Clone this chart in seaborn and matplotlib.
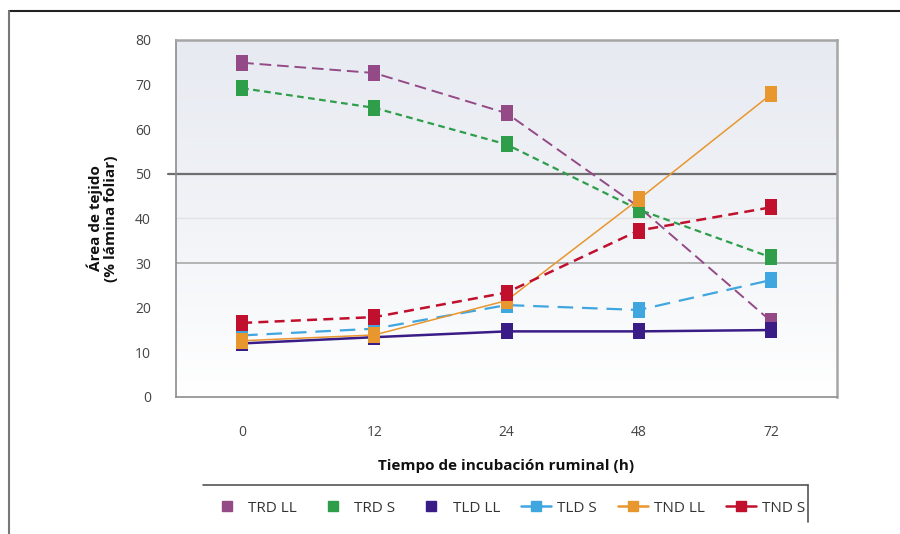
import numpy as np
import pandas as pd
import matplotlib
matplotlib.use("Agg")
import matplotlib.pyplot as plt
from matplotlib.lines import Line2D
import seaborn as sns

# Incubation times (h) and tissue area (% of leaf blade) per treatment
horas = ["0", "12", "24", "48", "72"]
trd_ll = [74.9, 72.6, 63.6, 42.6, 17.0]
trd_s = [69.2, 64.8, 56.6, 42.0, 31.3]
tld_ll = [12.0, 13.4, 14.7, 14.7, 15.0]
tld_s = [13.8, 15.3, 20.6, 19.5, 26.2]
tnd_ll = [12.6, 13.9, 21.6, 44.3, 67.8]
tnd_s = [16.6, 17.9, 23.4, 37.3, 42.5]

series = ["TRD LL", "TRD S", "TLD LL", "TLD S", "TND LL", "TND S"]
valores = [trd_ll, trd_s, tld_ll, tld_s, tnd_ll, tnd_s]

colores = {
    "TRD LL": "#944A86",
    "TRD S": "#2E9E4A",
    "TLD LL": "#3A1C86",
    "TLD S": "#3FA6E0",
    "TND LL": "#E8962E",
    "TND S": "#C0102E",
}
trazos = {
    "TRD LL": (6, 3),
    "TRD S": (3, 2),
    "TLD LL": "",
    "TLD S": (7, 4),
    "TND LL": "",
    "TND S": (4, 2.5),
}
grosor = {"TRD LL": 1.4, "TRD S": 1.6, "TLD LL": 1.8,
          "TLD S": 1.6, "TND LL": 1.1, "TND S": 1.8}

df = pd.DataFrame({
    "serie": np.repeat(series, len(horas)),
    "pos": np.tile(np.arange(len(horas)), len(series)),
    "valor": np.concatenate(valores),
})

sns.set_theme(style="white")
plt.rcParams["font.family"] = ["Open Sans", "DejaVu Sans"]

fig = plt.figure(figsize=(9, 5.34), dpi=100)
ax = fig.add_axes([0.1956, 0.2566, 0.7344, 0.6685])

# Soft vertical gradient in the plot area
grad = np.linspace(0, 1, 256).reshape(-1, 1)
cmap = matplotlib.colors.LinearSegmentedColormap.from_list(
    "fondo", ["#FFFFFF", "#F1F3F7", "#E7EAF1"])
ax.imshow(grad, extent=[0, 1, 0, 1], transform=ax.transAxes, cmap=cmap,
          aspect="auto", origin="lower", zorder=0)

# Reference lines at 30, 40 and 50
ax.axhline(40, color="#E2E2E2", lw=1.0, zorder=1)
ax.axhline(30, color="#A8A8A8", lw=1.2, zorder=1)
ax.plot([-0.56, 4.5], [50, 50], color="#6E6E6E", lw=1.6, zorder=1,
        clip_on=False)

# Slightly tall square markers
marcador = matplotlib.path.Path(
    [(-0.42, -0.5), (0.42, -0.5), (0.42, 0.5), (-0.42, 0.5), (-0.42, -0.5)],
    [1, 2, 2, 2, 79])

for s in series:
    sub = df[df["serie"] == s]
    sns.lineplot(data=sub, x="pos", y="valor", ax=ax, color=colores[s],
                 lw=grosor[s], marker=marcador, markersize=11,
                 markeredgewidth=0, dashes=False, zorder=3, legend=False)
    ln = ax.lines[-1]
    if trazos[s]:
        ln.set_dashes(trazos[s])

ax.set_xlim(-0.5, 4.5)
ax.set_ylim(0, 80)
ax.set_xticks(range(len(horas)))
ax.set_xticklabels(horas)
ax.set_yticks(range(0, 81, 10))
ax.tick_params(axis="both", length=0, labelsize=10, colors="#444444")
ax.tick_params(axis="y", pad=18)
ax.tick_params(axis="x", pad=20)

for lado in ["left", "bottom"]:
    ax.spines[lado].set_color("#8C8C8C")
    ax.spines[lado].set_linewidth(1.2)
for lado in ["top", "right"]:
    ax.spines[lado].set_color("#A6A6A6")
    ax.spines[lado].set_linewidth(1.8)

ax.set_xlabel("Tiempo de incubación ruminal (h)", fontsize=11,
              fontweight="bold", color="#111111", labelpad=14)
ax.set_ylabel("Área de tejido\n(% lámina foliar)", fontsize=11,
              fontweight="bold", color="#111111", labelpad=12,
              linespacing=1.15)

# Legend
handles = []
for s in series:
    if s in ("TRD LL", "TRD S", "TLD LL"):
        h = Line2D([], [], color=colores[s], marker="s", markersize=7,
                   linestyle="none")
    else:
        h = Line2D([], [], color=colores[s], marker="s", markersize=7,
                   lw=1.8)
    handles.append(h)
leg = fig.legend(handles, series, loc="center", ncol=6,
                 bbox_to_anchor=(0.565, 1 - 508 / 534), frameon=False,
                 fontsize=11, handlelength=2.0, handletextpad=0.4,
                 columnspacing=1.35)
for t in leg.get_texts():
    t.set_color("#333333")

# Legend frame edges (top and right) and outer figure border
fig.add_artist(Line2D([203 / 900, 808 / 900], [1 - 485 / 534, 1 - 485 / 534],
                      color="#555555", lw=1.2, transform=fig.transFigure))
fig.add_artist(Line2D([808 / 900, 808 / 900], [1 - 485 / 534, 1 - 522 / 534],
                      color="#555555", lw=1.2, transform=fig.transFigure))
fig.add_artist(Line2D([9 / 900, 1.0], [1 - 11 / 534, 1 - 11 / 534],
                      color="#222222", lw=1.5, transform=fig.transFigure))
fig.add_artist(Line2D([9 / 900, 9 / 900], [1 - 11 / 534, 0.0],
                      color="#777777", lw=1.5, transform=fig.transFigure))

fig.savefig("out.png", dpi=100)
